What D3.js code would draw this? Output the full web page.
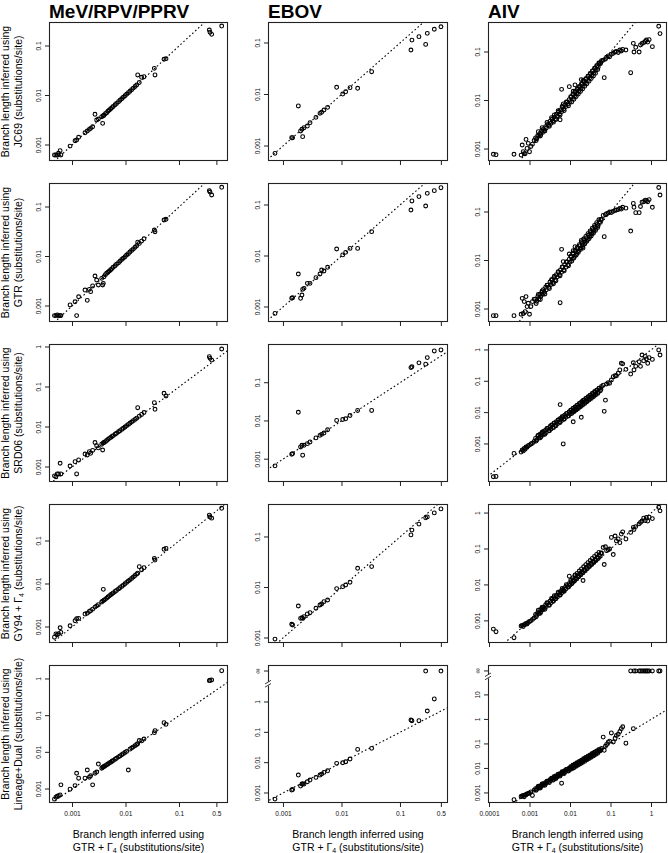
<!DOCTYPE html>
<html><head><meta charset="utf-8">
<script src="https://cdn.jsdelivr.net/npm/d3@7"></script>
<style>
body{margin:0;background:#fff}
svg{display:block;font-family:"Liberation Sans",Arial,Helvetica,sans-serif}
</style></head><body><svg id="c" width="668" height="853"></svg>
<script>
// ---------------- DATA ----------------
const viruses = ["MeV/RPV/PPRV", "EBOV", "AIV"];
const models = ["JC69", "GTR", "SRD06", "GY94", "Lineage+Dual"];

// MeV/RPV/PPRV: x = GTR+G4 branch length
const mevX = [0.00047,0.0005,0.00053,0.00056,0.0006,0.00062,0.00092,0.00114,0.00122,0.00133,
0.00175,0.00193,0.00211,0.00223,0.00243,0.00269,0.00289,0.00311,0.00359,0.00374,0.00385,0.00396,
0.0042,0.00445,0.0047,0.005,0.0053,0.0056,0.0059,0.0064,0.0068,0.0074,0.0079,0.0085,0.0091,0.0098,
0.0105,0.0113,0.0121,0.013,0.014,0.0151,0.0162,0.0169,0.0181,0.02,0.0222,0.0346,0.0356,0.0525,0.0572,
0.369,0.38,0.408,0.628];
const mevJC69 = [0.00063,0.00063,0.00063,0.00068,0.00077,0.00063,0.00095,0.00122,0.00126,0.00143,
0.00177,0.00192,0.00207,0.00217,0.00234,0.00417,0.0032,0.00335,0.00373,0.00274,0.0039,0.004,
0.0043,0.0045,0.0048,0.0051,0.0054,0.0057,0.006,0.0065,0.0069,0.0075,0.008,0.0086,0.0092,0.0099,
0.0106,0.0114,0.0122,0.0131,0.0141,0.0152,0.0163,0.026,0.0183,0.0233,0.024,0.0354,0.026,0.0539,0.0555,
0.21,0.19,0.172,0.253];
const mevGTR = [0.00064,0.00064,0.00066,0.00064,0.00064,0.00064,0.00105,0.00122,0.00064,0.00154,
0.0021,0.0013,0.00217,0.00195,0.00254,0.00404,0.00335,0.00266,0.00362,0.00266,0.00287,0.0039,
0.0043,0.0046,0.0048,0.0051,0.0054,0.0057,0.0061,0.0065,0.007,0.0075,0.008,0.0087,0.0092,0.0099,
0.0107,0.0114,0.0123,0.0132,0.0142,0.0154,0.0165,0.0195,0.0184,0.0205,0.0228,0.0343,0.0317,0.0546,0.0564,
0.213,0.2,0.175,0.25];
const mevSRD06 = [0.0006,0.00057,0.00067,0.00067,0.00124,0.00067,0.00106,0.00136,0.00067,0.0015,
0.00211,0.002,0.00241,0.0022,0.0026,0.0041,0.0034,0.003,0.0037,0.00266,0.004,0.0041,
0.0043,0.0046,0.0049,0.0052,0.0055,0.0058,0.0061,0.0066,0.007,0.0076,0.0081,0.0087,0.0093,0.01,
0.0108,0.0116,0.0124,0.0133,0.0144,0.0155,0.0166,0.0304,0.0187,0.0206,0.023,0.0405,0.0277,0.0695,0.0596,
0.573,0.52,0.47,0.89];
const mevGY94 = [0.00058,0.00069,0.00066,0.0007,0.00096,0.00075,0.00107,0.0014,0.00155,0.00159,
0.002,0.0021,0.0023,0.0024,0.0026,0.0029,0.0031,0.0033,0.0038,0.004,0.0075,0.0042,
0.0044,0.0047,0.005,0.0053,0.0056,0.0059,0.0062,0.0067,0.0071,0.0077,0.0082,0.0088,0.0094,0.0101,
0.0109,0.0117,0.0125,0.0134,0.0145,0.0157,0.017,0.0178,0.0253,0.0215,0.024,0.0395,0.036,0.064,0.0675,
0.40,0.36,0.34,0.575];
const mevLD = [0.00053,0.0006,0.00064,0.00066,0.00069,0.0013,0.00099,0.00124,0.00269,0.00197,
0.00197,0.0033,0.0021,0.0023,0.0013,0.0027,0.0029,0.0048,0.0037,0.0039,0.004,0.0041,
0.0043,0.0046,0.0048,0.0051,0.0054,0.0057,0.006,0.0065,0.0069,0.0075,0.008,0.0086,0.0092,0.0099,
0.0106,0.0033,0.0122,0.0131,0.0141,0.0152,0.0163,0.0172,0.021,0.0205,0.023,0.0344,0.039,0.0645,0.058,
0.9,0.92,0.94,1.68];

// EBOV
const ebovX = [0.00073,0.00141,0.00146,0.00183,0.002,0.00211,0.00217,0.00229,0.00261,0.0029,0.00366,0.00429,
0.00458,0.00502,0.0058,0.00827,0.0105,0.0118,0.014,0.0189,0.0328,0.154,0.16,0.211,0.275,0.293,0.386,0.502];
const ebovJC69 = [0.00072,0.00145,0.00145,0.006,0.00196,0.00211,0.00152,0.00227,0.00244,0.00284,0.0036,0.00431,
0.00451,0.005,0.00563,0.0138,0.0102,0.0113,0.0136,0.0132,0.0277,0.0731,0.114,0.133,0.094,0.154,0.185,0.207];
const ebovGTR = [0.00075,0.00148,0.00152,0.00444,0.00148,0.00172,0.00222,0.00232,0.00291,0.00291,0.00376,0.00444,
0.00531,0.00508,0.006,0.0137,0.0105,0.0118,0.0141,0.0141,0.03,0.0798,0.12,0.146,0.0955,0.169,0.191,0.218];
const ebovSRD06 = [0.00067,0.00135,0.0014,0.0169,0.00209,0.00231,0.00127,0.00231,0.00255,0.00282,0.0036,0.0042,
0.00446,0.00483,0.00589,0.0103,0.0109,0.0114,0.0139,0.0188,0.0188,0.249,0.261,0.331,0.306,0.454,0.678,0.719];
const ebovGY94 = [0.00095,0.00187,0.00181,0.0043,0.00245,0.00252,0.00245,0.00264,0.00299,0.00317,0.00387,0.0045,
0.00471,0.00524,0.00565,0.0095,0.0104,0.0112,0.0127,0.024,0.0259,0.11,0.137,0.18,0.24,0.25,0.3,0.36];
const ebovLD = [0.00063,0.00125,0.00131,0.0039,0.00169,0.00197,0.00197,0.00197,0.00235,0.00267,0.00327,0.0039,
0.0042,0.00477,0.0054,0.0095,0.00995,0.0107,0.0132,0.0274,0.0296,0.255,0.242,0.242,Infinity,0.505,1.26,Infinity];

// AIV
const aivX = [0.000128,0.000149,0.000414,
0.00062,0.00066,0.0007,0.00074,0.00078,0.00082,0.00087,0.00093,0.001,0.00108,0.00118,0.0013,
0.00141,0.0015,0.0016,0.0017,0.0018,0.0019,0.002,0.0021,0.0022,0.0023,
0.0025,0.0026,0.0028,0.003,0.0032,0.0034,0.0036,0.0038,0.004,0.0043,
0.0046,0.0049,0.0052,0.0055,0.0058,0.0062,0.0066,0.007,0.0074,0.0079,
0.0084,0.0089,0.0095,0.01,0.0107,0.0114,0.0121,0.0129,0.0137,0.0146,
0.0155,0.0165,0.0175,0.0186,0.0198,0.021,0.0224,0.0238,0.0253,0.0269,
0.0286,0.0304,0.0323,0.0344,0.0366,0.0389,0.0414,0.044,0.0468,0.0498,
0.053,0.056,0.06,
0.0057,0.0062,0.0068,0.0096,0.012,0.0133,0.019,0.021,
0.066,0.07,0.075,0.08,0.088,0.095,0.105,0.117,0.13,0.14,0.155,0.17,0.185,0.2,0.24,
0.315,0.366,0.38,0.42,0.51,0.55,0.6,0.66,0.72,0.77,0.83,0.9,1.08,1.55,1.67];
const aivJC69 = [0.00078,0.00076,0.00078,
0.00075,0.00121,0.00088,0.0008,0.0008,0.00158,0.00103,0.00131,0.00088,0.00113,0.00126,0.0015,
0.0017,0.00163,0.0019,0.00185,0.0021,0.002,0.0024,0.0022,0.0026,0.0024,
0.0029,0.0027,0.0032,0.0031,0.0037,0.0034,0.0041,0.0038,0.0045,0.0042,
0.0052,0.0048,0.0058,0.0053,0.0064,0.0059,0.0072,0.0067,0.0081,0.0075,
0.0092,0.0085,0.0104,0.0095,0.0117,0.0108,0.0132,0.0122,0.0149,0.0138,
0.0168,0.0157,0.019,0.0177,0.0215,0.02,0.0244,0.0226,0.0277,0.0256,
0.0313,0.029,0.0355,0.0328,0.0402,0.0372,0.0455,0.0425,0.052,0.049,
0.059,0.057,0.066,
0.004,0.017,0.0085,0.0193,0.0155,0.021,0.027,0.026,
0.068,0.0296,0.072,0.078,0.083,0.08,0.09,0.094,0.1,0.103,0.098,0.11,0.105,0.113,0.11,
0.0375,0.151,0.1,0.125,0.1,0.14,0.15,0.156,0.165,0.177,0.16,0.18,0.129,0.34,0.24];
const aivGTR = [0.00073,0.00073,0.00073,
0.00078,0.00166,0.00081,0.00142,0.00088,0.0018,0.00112,0.00131,0.00078,0.00112,0.00142,0.0016,
0.0016,0.00145,0.0018,0.0016,0.002,0.0018,0.0022,0.002,0.0025,0.0022,
0.0028,0.0025,0.0031,0.0028,0.0036,0.0032,0.004,0.0035,0.0044,0.004,
0.0051,0.0046,0.0057,0.0051,0.0064,0.0057,0.0073,0.0064,0.0082,0.0073,
0.0093,0.0082,0.0105,0.0093,0.012,0.0108,0.0135,0.0123,0.0153,0.014,
0.0176,0.016,0.02,0.0182,0.0226,0.0208,0.0258,0.0238,0.0292,0.027,
0.0332,0.031,0.0378,0.0352,0.043,0.0402,0.049,0.046,0.0555,0.0525,
0.063,0.061,0.07,
0.00135,0.017,0.0095,0.0136,0.016,0.0193,0.026,0.018,
0.085,0.031,0.088,0.092,0.095,0.1,0.098,0.104,0.108,0.11,0.112,0.118,0.115,0.125,0.12,
0.0405,0.15,0.125,0.097,0.097,0.13,0.16,0.163,0.175,0.17,0.163,0.18,0.125,0.32,0.224];
const aivSRD06 = [0.00009,0.000092,0.0005,
0.00055,0.00064,0.0006,0.00072,0.00068,0.0008,0.00078,0.00088,0.00092,0.001,0.00105,0.0012,
0.0015,0.00135,0.0018,0.00153,0.002,0.0017,0.0022,0.0019,0.0025,0.0021,
0.0028,0.0023,0.0031,0.0027,0.0036,0.003,0.004,0.0034,0.0045,0.0039,
0.0051,0.0044,0.0058,0.005,0.0065,0.0056,0.0074,0.0063,0.0083,0.0071,
0.0094,0.008,0.0106,0.009,0.012,0.0103,0.0135,0.0116,0.0153,0.0131,
0.0174,0.0149,0.0196,0.0167,0.0222,0.0189,0.0251,0.0214,0.0283,0.0242,
0.032,0.0274,0.0362,0.031,0.041,0.035,0.0464,0.0396,0.0524,0.0448,
0.06,0.05,0.068,
0.018,0.0065,0.001,0.0105,0.0051,0.0125,0.0071,0.024,
0.075,0.011,0.025,0.082,0.09,0.086,0.11,0.14,0.15,0.15,0.18,0.23,0.375,0.36,0.24,
0.17,0.39,0.23,0.3,0.42,0.3,0.69,0.45,0.62,0.52,0.375,0.57,0.5,1.0,0.69];
const aivGY94 = [0.00059,0.0005,0.00034,
0.00072,0.00075,0.0007,0.00078,0.0008,0.00085,0.00082,0.0009,0.00096,0.001,0.0011,0.0012,
0.0015,0.00142,0.0017,0.0016,0.002,0.0018,0.0022,0.002,0.0024,0.0022,
0.0028,0.0025,0.0031,0.0028,0.0035,0.0032,0.004,0.0036,0.0044,0.0041,
0.0051,0.0047,0.0058,0.0053,0.0065,0.006,0.0074,0.0068,0.0084,0.0077,
0.0095,0.0088,0.0108,0.0099,0.0122,0.0113,0.0139,0.0129,0.0158,0.0147,
0.018,0.0168,0.0205,0.0192,0.0234,0.0219,0.0267,0.025,0.0305,0.0285,
0.0348,0.0325,0.0397,0.037,0.0453,0.0422,0.0518,0.048,0.059,0.0548,
0.0675,0.0625,0.077,
0.0052,0.0068,0.0072,0.0175,0.0128,0.019,0.022,0.0133,
0.11,0.037,0.115,0.09,0.095,0.1,0.21,0.07,0.23,0.168,0.19,0.15,0.26,0.3,0.19,
0.29,0.4,0.35,0.42,0.5,0.55,0.6,0.72,0.62,0.75,0.6,0.77,0.7,1.45,1.15];
const aivLD = [null,null,0.00053,
0.00072,0.00075,0.00079,0.0007,0.00082,0.00085,0.0009,0.00095,0.001,0.0011,0.00079,0.0013,
0.0015,0.0014,0.0017,0.0016,0.0019,0.0018,0.0021,0.002,0.0024,0.0022,
0.0027,0.0025,0.003,0.0029,0.0035,0.0032,0.0039,0.0036,0.0043,0.0041,
0.005,0.0046,0.0056,0.0052,0.0063,0.0059,0.0071,0.0066,0.008,0.0075,
0.0091,0.0084,0.0103,0.0095,0.0116,0.0108,0.0131,0.0122,0.0148,0.0138,
0.0168,0.0156,0.019,0.0176,0.0215,0.0199,0.0243,0.0225,0.0275,0.0255,
0.031,0.0288,0.035,0.0326,0.0397,0.0368,0.045,0.0416,0.051,0.047,
0.058,0.053,0.065,
0.0055,0.0025,0.0072,0.0092,0.0125,0.0128,0.018,0.0215,
0.19,0.055,0.08,0.095,0.118,0.13,0.28,0.12,0.17,0.22,0.25,0.32,0.42,0.5,0.107,
Infinity,0.42,Infinity,Infinity,Infinity,Infinity,Infinity,Infinity,Infinity,Infinity,Infinity,Infinity,Infinity,Infinity,Infinity];

// AIV: second set of branches inside the dense band
const aivX2 = [0.00146,0.00165,0.00185,0.00205,0.0024,0.0027,0.0031,0.0035,0.0039,0.0041,
0.0045,0.0051,0.0057,0.0064,0.0072,0.0081,0.0092,0.0104,0.011,0.0118,
0.0125,0.0133,0.0142,0.015,0.016,0.017,0.0181,0.0192,0.0204,0.0217,
0.0231,0.0245,0.0261,0.0277,0.0295,0.0314,0.0334,0.0355,0.0378,0.0402,
0.0427,0.0455,0.0483,0.0515,0.058];
const aivJC69b = [0.00149,0.00228,0.00186,0.00276,0.00235,0.00351,0.00295,0.00443,0.00358,0.00504,
0.00405,0.00616,0.00504,0.00758,0.00624,0.00932,0.00782,0.012,0.00935,0.0136,
0.0106,0.0153,0.0121,0.0173,0.0136,0.0196,0.0154,0.0221,0.0173,0.025,
0.0196,0.0282,0.0222,0.0319,0.0251,0.0361,0.0284,0.0408,0.0321,0.0462,
0.0363,0.0523,0.0435,0.0592,0.061];
const aivGTRb = [0.0013,0.00199,0.00157,0.00236,0.00204,0.0031,0.00264,0.00403,0.00332,0.00472,
0.00383,0.00587,0.00485,0.00736,0.00612,0.00932,0.00782,0.0122,0.0097,0.0142,
0.0112,0.0162,0.0129,0.0185,0.0147,0.0212,0.0169,0.0242,0.0191,0.0277,
0.0219,0.0314,0.0248,0.0357,0.0282,0.0407,0.0321,0.0464,0.0366,0.0528,
0.0418,0.0602,0.0477,0.069,0.07];
const aivSRD06b = [0.00124,0.0019,0.00157,0.00236,0.00204,0.0031,0.00264,0.00403,0.00332,0.00472,
0.00383,0.00587,0.00485,0.00736,0.00612,0.00932,0.00782,0.012,0.00935,0.0136,
0.0106,0.0153,0.0121,0.0173,0.0136,0.0196,0.0154,0.0221,0.0173,0.025,
0.0196,0.0282,0.0222,0.0319,0.0251,0.0361,0.0284,0.0408,0.0321,0.0462,
0.0363,0.0523,0.041,0.0592,0.055];
const aivGY94b = [0.0013,0.00199,0.00162,0.0024,0.0021,0.0032,0.0027,0.0042,0.0035,0.005,
0.0041,0.0063,0.0053,0.008,0.0067,0.0102,0.0087,0.0134,0.0107,0.0157,
0.0126,0.0182,0.0146,0.021,0.0169,0.0243,0.0194,0.028,0.0222,0.032,
0.0254,0.0366,0.0288,0.0418,0.0329,0.0477,0.0375,0.0545,0.0428,0.0624,
0.0488,0.0705,0.0555,0.0805,0.076];
const aivLDb = [0.00128,0.00188,0.0016,0.00232,0.00207,0.00305,0.00268,0.00398,0.00336,0.00468,
0.00388,0.0058,0.0049,0.0073,0.0062,0.0092,0.0079,0.0119,0.0094,0.0135,
0.0107,0.0152,0.0122,0.0171,0.0137,0.0194,0.0155,0.0219,0.0175,0.0248,
0.0198,0.028,0.0224,0.0316,0.0253,0.0358,0.0287,0.0405,0.0324,0.0458,
0.0367,0.0519,0.0413,0.0587,0.057];

// tick values
const xTickVals = [[0.001,0.01,0.1,0.5],[0.001,0.01,0.1,0.5],[0.0001,0.001,0.01,0.1,1]];
const yTickVals = [
  [[0.001,0.01,0.1],[0.001,0.01,0.1],[0.001,0.01,0.1]],
  [[0.001,0.01,0.1],[0.001,0.01,0.1],[0.001,0.01,0.1]],
  [[0.001,0.01,0.1,1],[0.001,0.01,0.1],[0.001,0.01,0.1,1]],
  [[0.001,0.01,0.1],[0.001,0.01,0.1],[0.001,0.01,0.1,1]],
  [[0.001,0.01,0.1,1],[0.001,0.01,0.1,1,Infinity],[0.001,0.01,0.1,1,10,Infinity]]
];

// ---------------- LAYOUT ----------------
const xsByCol = [mevX, ebovX, aivX.concat(aivX2)];
const ysByCol = [
  [mevJC69, mevGTR, mevSRD06, mevGY94, mevLD],
  [ebovJC69, ebovGTR, ebovSRD06, ebovGY94, ebovLD],
  [aivJC69.concat(aivJC69b), aivGTR.concat(aivGTRb), aivSRD06.concat(aivSRD06b),
   aivGY94.concat(aivGY94b), aivLD.concat(aivLDb)]
];
const colBox = [[49,228],[268,448],[488,667]];
const rowBox = [[22,161],[183,322],[344,482],[504,643],[665,803]];
const xDomLog = [[-3.43,-0.084],[-3.256,-0.179],[-4.025,0.395]];
const yDomLog = [
  [[-3.323,-0.515],[-3.291,-0.592],[-3.247,-0.381]],
  [[-3.323,-0.515],[-3.294,-0.569],[-3.268,-0.402]],
  [[-3.375,0.075],[-3.597,0.013],[-4.214,0.19]],
  [[-3.372,-0.14],[-3.099,-0.347],[-3.616,0.252]],
  [[-3.381,0.381],[-3.33,1.22],[-3.41,2.22]]
];
const infPos = [null, 10.5, 95];      // where the "infinity" row sits (row 5)
const breakPos = [null, 4.0, 57];      // axis break position (row 5)

const svg = d3.select("#c");
const fmt = v => v === Infinity ? "\u221E" : String(v);

const yTitles = ["JC69", "GTR", "SRD06", "GY94", "Lineage+Dual"];

for (let c = 0; c < 3; c++) {
  const [x0, x1] = colBox[c];
  const xs = d3.scaleLog().domain([10**xDomLog[c][0], 10**xDomLog[c][1]]).range([x0, x1]);
  // column title
  svg.append("text").attr("x", x0).attr("y", 18)
    .attr("font-size", 19).attr("font-weight", "bold").text(viruses[c]);

  for (let r = 0; r < 5; r++) {
    const [y0, y1] = rowBox[r];
    const ys = d3.scaleLog().domain([10**yDomLog[r][c][0], 10**yDomLog[r][c][1]]).range([y1, y0]);
    const yMap = v => v === Infinity ? ys(infPos[c]) : ys(v);
    const g = svg.append("g");
    const clipId = `clip${r}_${c}`;
    svg.append("clipPath").attr("id", clipId).append("rect")
      .attr("x", x0).attr("y", y0).attr("width", x1 - x0).attr("height", y1 - y0);

    // 1:1 line
    const lo = Math.min(xs.domain()[0], ys.domain()[0]) / 10;
    const hi = Math.max(xs.domain()[1], ys.domain()[1]) * 10;
    g.append("line").attr("clip-path", `url(#${clipId})`)
      .attr("x1", xs(lo)).attr("y1", ys(lo)).attr("x2", xs(hi)).attr("y2", ys(hi))
      .attr("stroke", "#000").attr("stroke-width", 1.1).attr("stroke-dasharray", "1.6,2.4");

    // points
    const xv = xsByCol[c], yv = ysByCol[c][r];
    const pts = xv.map((v, i) => [v, yv[i]]).filter(d => d[1] !== null && d[1] !== undefined);
    g.append("g").attr("clip-path", `url(#${clipId})`).selectAll("circle").data(pts).join("circle")
      .attr("cx", d => xs(d[0])).attr("cy", d => yMap(d[1])).attr("r", 1.9)
      .attr("fill", "none").attr("stroke", "#000").attr("stroke-width", 1.1);

    // box
    g.append("rect").attr("x", x0 + 0.5).attr("y", y0 + 0.5)
      .attr("width", x1 - x0 - 1).attr("height", y1 - y0 - 1)
      .attr("fill", "none").attr("stroke", "#222").attr("stroke-width", 1.1);

    // x axis ticks
    const xa = g.append("g").attr("transform", `translate(0,${y1})`)
      .call(d3.axisBottom(xs).tickValues(xTickVals[c]).tickSize(4).tickSizeOuter(0).tickFormat(fmt));
    xa.select(".domain").remove();
    xa.selectAll("line").attr("stroke", "#222");
    xa.selectAll("text").attr("font-size", 6.6).attr("font-family", "Liberation Sans, Arial, sans-serif")
      .attr("y", 10.5).attr("dy", "0.32em").attr("fill", "#111");
    if (r !== 4) xa.selectAll("text").remove();

    // y axis ticks
    const tv = yTickVals[r][c];
    const ya = g.append("g").attr("transform", `translate(${x0},0)`);
    tv.forEach(v => {
      const py = yMap(v);
      ya.append("line").attr("x1", 0).attr("x2", -4).attr("y1", py).attr("y2", py).attr("stroke", "#222");
      ya.append("text").attr("transform", `translate(-8,${py}) rotate(-90)`)
        .attr("text-anchor", "middle").attr("font-size", v === Infinity ? 7.5 : 6.6)
        .attr("fill", "#111").text(fmt(v));
    });

    // axis break
    if (r === 4 && breakPos[c]) {
      const by = ys(breakPos[c]);
      ya.append("rect").attr("x", -2.5).attr("y", by - 2).attr("width", 5).attr("height", 4).attr("fill", "#fff");
      [-1.6, 1.6].forEach(o => {
        ya.append("line").attr("x1", -3).attr("y1", by + o + 1.8).attr("x2", 3).attr("y2", by + o - 1.8)
          .attr("stroke", "#222").attr("stroke-width", 0.9);
      });
    }

    // y titles (first column only)
    if (c === 0) {
      const cy = (y0 + y1) / 2;
      svg.append("text").attr("transform", `translate(9,${cy}) rotate(-90)`)
        .attr("text-anchor", "middle").attr("font-size", 10.5).text("Branch length inferred using");
      const t2 = svg.append("text").attr("transform", `translate(22,${cy}) rotate(-90)`)
        .attr("text-anchor", "middle").attr("font-size", 10.5);
      if (models[r] === "GY94") {
        t2.append("tspan").text("GY94 + \u0393");
        t2.append("tspan").attr("font-size", 7).attr("dy", 2).text("4");
        t2.append("tspan").attr("dy", -2).text(" (substitutions/site)");
      } else {
        t2.text(`${yTitles[r]} (substitutions/site)`);
      }
    }
  }
  // x titles
  const cx = (x0 + x1) / 2;
  svg.append("text").attr("x", cx).attr("y", 838).attr("text-anchor", "middle")
    .attr("font-size", 10.5).text("Branch length inferred using");
  const t = svg.append("text").attr("x", cx).attr("y", 851).attr("text-anchor", "middle").attr("font-size", 10.5);
  t.append("tspan").text("GTR + \u0393");
  t.append("tspan").attr("font-size", 7).attr("dy", 2).text("4");
  t.append("tspan").attr("dy", -2).text(" (substitutions/site)");
}
</script></body></html>
